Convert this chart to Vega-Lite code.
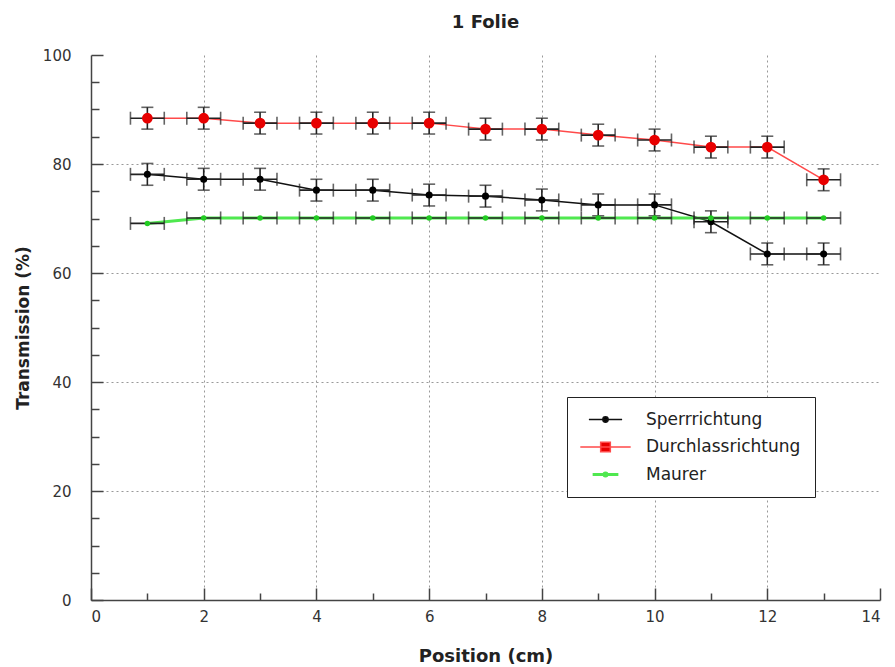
{
  "$schema": "https://vega.github.io/schema/vega-lite/v6.json",
  "width": 789,
  "height": 545,
  "autosize": "none",
  "padding": {"left": 91, "top": 55, "right": 15, "bottom": 67},
  "background": "white",
  "title": {"text": "1 Folie", "font": "DejaVu Sans", "fontSize": 18, "fontWeight": "bold", "color": "#222", "offset": 16, "anchor": "middle"},
  "config": {"view": {"stroke": null}},
  "data": {"values": [
    {"series": "Sperrrichtung", "pos": 1, "trans": 78.1, "ex": 0.3, "ey": 2},
    {"series": "Sperrrichtung", "pos": 2, "trans": 77.2, "ex": 0.3, "ey": 2},
    {"series": "Sperrrichtung", "pos": 3, "trans": 77.2, "ex": 0.3, "ey": 2},
    {"series": "Sperrrichtung", "pos": 4, "trans": 75.2, "ex": 0.3, "ey": 2},
    {"series": "Sperrrichtung", "pos": 5, "trans": 75.2, "ex": 0.3, "ey": 2},
    {"series": "Sperrrichtung", "pos": 6, "trans": 74.3, "ex": 0.3, "ey": 2},
    {"series": "Sperrrichtung", "pos": 7, "trans": 74.1, "ex": 0.3, "ey": 2},
    {"series": "Sperrrichtung", "pos": 8, "trans": 73.4, "ex": 0.3, "ey": 2},
    {"series": "Sperrrichtung", "pos": 9, "trans": 72.5, "ex": 0.3, "ey": 2},
    {"series": "Sperrrichtung", "pos": 10, "trans": 72.5, "ex": 0.3, "ey": 2},
    {"series": "Sperrrichtung", "pos": 11, "trans": 69.4, "ex": 0.3, "ey": 2},
    {"series": "Sperrrichtung", "pos": 12, "trans": 63.5, "ex": 0.3, "ey": 2},
    {"series": "Sperrrichtung", "pos": 13, "trans": 63.5, "ex": 0.3, "ey": 2},
    {"series": "Durchlassrichtung", "pos": 1, "trans": 88.4, "ex": 0.3, "ey": 2},
    {"series": "Durchlassrichtung", "pos": 2, "trans": 88.4, "ex": 0.3, "ey": 2},
    {"series": "Durchlassrichtung", "pos": 3, "trans": 87.5, "ex": 0.3, "ey": 2},
    {"series": "Durchlassrichtung", "pos": 4, "trans": 87.5, "ex": 0.3, "ey": 2},
    {"series": "Durchlassrichtung", "pos": 5, "trans": 87.5, "ex": 0.3, "ey": 2},
    {"series": "Durchlassrichtung", "pos": 6, "trans": 87.5, "ex": 0.3, "ey": 2},
    {"series": "Durchlassrichtung", "pos": 7, "trans": 86.4, "ex": 0.3, "ey": 2},
    {"series": "Durchlassrichtung", "pos": 8, "trans": 86.4, "ex": 0.3, "ey": 2},
    {"series": "Durchlassrichtung", "pos": 9, "trans": 85.3, "ex": 0.3, "ey": 2},
    {"series": "Durchlassrichtung", "pos": 10, "trans": 84.4, "ex": 0.3, "ey": 2},
    {"series": "Durchlassrichtung", "pos": 11, "trans": 83.1, "ex": 0.3, "ey": 2},
    {"series": "Durchlassrichtung", "pos": 12, "trans": 83.1, "ex": 0.3, "ey": 2},
    {"series": "Durchlassrichtung", "pos": 13, "trans": 77.1, "ex": 0.3, "ey": 2},
    {"series": "Maurer", "pos": 1, "trans": 69.1, "ex": 0.3, "ey": 0},
    {"series": "Maurer", "pos": 2, "trans": 70.1, "ex": 0.3, "ey": 0},
    {"series": "Maurer", "pos": 3, "trans": 70.1, "ex": 0.3, "ey": 0},
    {"series": "Maurer", "pos": 4, "trans": 70.1, "ex": 0.3, "ey": 0},
    {"series": "Maurer", "pos": 5, "trans": 70.1, "ex": 0.3, "ey": 0},
    {"series": "Maurer", "pos": 6, "trans": 70.1, "ex": 0.3, "ey": 0},
    {"series": "Maurer", "pos": 7, "trans": 70.1, "ex": 0.3, "ey": 0},
    {"series": "Maurer", "pos": 8, "trans": 70.1, "ex": 0.3, "ey": 0},
    {"series": "Maurer", "pos": 9, "trans": 70.1, "ex": 0.3, "ey": 0},
    {"series": "Maurer", "pos": 10, "trans": 70.1, "ex": 0.3, "ey": 0},
    {"series": "Maurer", "pos": 11, "trans": 70.1, "ex": 0.3, "ey": 0},
    {"series": "Maurer", "pos": 12, "trans": 70.1, "ex": 0.3, "ey": 0},
    {"series": "Maurer", "pos": 13, "trans": 70.1, "ex": 0.3, "ey": 0}
  ]},
  "encoding": {
    "x": {
      "field": "pos", "type": "quantitative",
      "scale": {"domain": [0, 14], "nice": false, "zero": false},
      "axis": {
        "title": "Position (cm)",
        "titleFont": "DejaVu Sans", "titleFontSize": 18, "titleFontWeight": "bold", "titleColor": "#222", "titlePadding": 23,
        "values": [0,1,2,3,4,5,6,7,8,9,10,11,12,13,14],
        "labelExpr": "datum.value % 2 === 0 ? datum.label : ''",
        "labelFont": "DejaVu Sans", "labelFontSize": 15, "labelColor": "#333", "labelPadding": 21,
        "domainColor": "#444", "domainWidth": 1.5,
        "tickColor": "#444", "tickWidth": 1.5,
        "tickSize": {"condition": {"test": "datum.value % 2 === 0", "value": -12}, "value": -7},
        "grid": true, "gridDash": [2, 3], "gridColor": "#999", "gridWidth": 1,
        "gridOpacity": {"condition": {"test": "datum.value % 2 === 0 && datum.value > 0 && datum.value < 14", "value": 1}, "value": 0}
      }
    },
    "y": {
      "field": "trans", "type": "quantitative",
      "scale": {"domain": [0, 100], "nice": false},
      "axis": {
        "title": "Transmission (%)",
        "titleFont": "DejaVu Sans", "titleFontSize": 17, "titleFontWeight": "bold", "titleColor": "#222", "titlePadding": 10,
        "values": [0,5,10,15,20,25,30,35,40,45,50,55,60,65,70,75,80,85,90,95,100],
        "labelExpr": "datum.value % 20 === 0 ? datum.label : ''",
        "labelFont": "DejaVu Sans", "labelFontSize": 15, "labelColor": "#333", "labelPadding": 32,
        "domainColor": "#444", "domainWidth": 1.5,
        "tickColor": "#444", "tickWidth": 1.5,
        "tickSize": {"condition": {"test": "datum.value % 20 === 0", "value": -12}, "value": -8},
        "grid": true, "gridDash": [2, 3], "gridColor": "#999", "gridWidth": 1,
        "gridOpacity": {"condition": {"test": "datum.value % 20 === 0 && datum.value > 0 && datum.value < 100", "value": 1}, "value": 0}
      }
    }
  },
  "layer": [
    {
      "mark": {"type": "line"},
      "encoding": {
        "stroke": {
          "field": "series", "type": "nominal",
          "scale": {"domain": ["Sperrrichtung", "Durchlassrichtung", "Maurer"], "range": ["#111111", "#ff4a4a", "#4fe84f"]},
          "legend": {
            "title": null, "orient": "none", "legendX": 476, "legendY": 342,
            "direction": "vertical",
            "strokeColor": "#222", "fillColor": "white", "padding": 14,
            "labelFont": "DejaVu Sans", "labelFontSize": 17, "labelColor": "#222",
            "symbolSize": 400, "symbolOffset": 16, "labelOffset": 32, "rowPadding": 9.5,
            "symbolStrokeWidth": 1.5,
            "encode": {"symbols": {"update": {
              "fill": {"scale": "fill", "field": "value"},
              "stroke": {"scale": "stroke", "field": "value"},
              "size": {"value": 400},
              "strokeWidth": {"signal": "datum.value === 'Maurer' ? 2 : 1.5"},
              "shape": {"signal": "datum.value === 'Durchlassrichtung' ? 'M-4.7,0H4.7M-0.9,-0.9H0.9V0.9H-0.9Z' : (datum.value === 'Maurer' ? 'M-4.7,0H4.7M-0.55,0A0.55,0.55 0 1,0 0.55,0A0.55,0.55 0 1,0 -0.55,0' : 'M-4.7,0H4.7M-0.75,0A0.75,0.75 0 1,0 0.75,0A0.75,0.75 0 1,0 -0.75,0')"}
            }}}
          }
        },
        "strokeWidth": {
          "field": "series", "type": "nominal",
          "scale": {"type": "ordinal", "domain": ["Sperrrichtung", "Durchlassrichtung", "Maurer"], "range": [1.5, 1.5, 3]},
          "legend": null
        }
      }
    },
    {
      "transform": [{"filter": "datum.ey > 0"}],
      "mark": {"type": "errorbar", "ticks": {"size": 12}, "color": "#222", "thickness": 1.6},
      "encoding": {
        "yError": {"field": "ey"}
      }
    },
    {
      "mark": {"type": "errorbar", "ticks": {"size": 13}, "color": "#222", "thickness": 1.6},
      "encoding": {
        "xError": {"field": "ex"}
      }
    },
    {
      "mark": {"type": "point", "filled": true, "opacity": 1},
      "encoding": {
        "fill": {
          "field": "series", "type": "nominal",
          "scale": {"domain": ["Sperrrichtung", "Durchlassrichtung", "Maurer"], "range": ["#000000", "#e80000", "#22cc22"]},
          "legend": null
        },
        "size": {
          "field": "series", "type": "nominal",
          "scale": {"type": "ordinal", "domain": ["Sperrrichtung", "Durchlassrichtung", "Maurer"], "range": [50, 115, 30]},
          "legend": null
        }
      }
    }
  ]
}
